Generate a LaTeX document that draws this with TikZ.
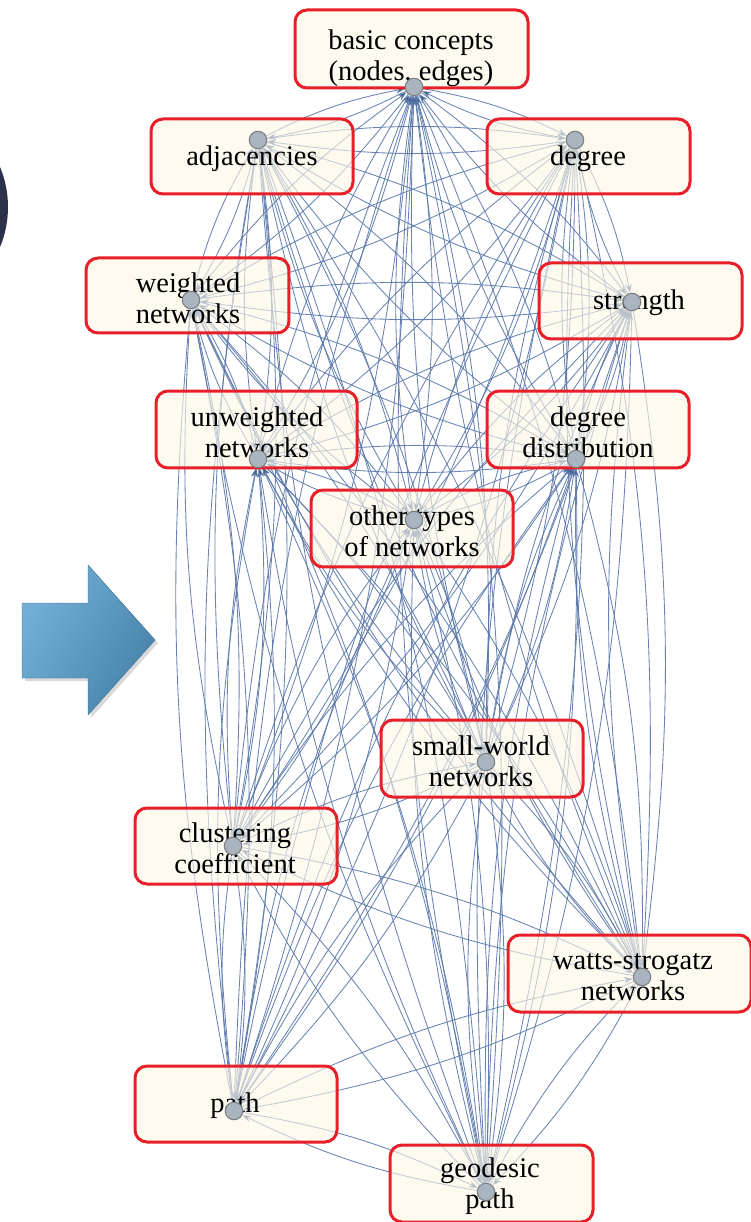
\documentclass[tikz,border=0pt]{standalone}
\usepackage{fontspec}
\setmainfont{Liberation Serif}
\usetikzlibrary{arrows.meta}
\pgfdeclarelayer{edges}
\pgfsetlayers{edges,main}
\definecolor{edgeblue}{RGB}{88,118,168}
\definecolor{tipblue}{RGB}{55,85,130}
\definecolor{boxred}{RGB}{232,30,40}
\definecolor{boxfill}{RGB}{253,247,230}
\definecolor{vfill}{RGB}{170,180,190}
\definecolor{vdraw}{RGB}{120,125,130}
\definecolor{navy}{RGB}{45,50,75}
\definecolor{arrowA}{RGB}{115,175,214}
\definecolor{arrowB}{RGB}{70,130,170}
\begin{document}
\begin{tikzpicture}[x=0.1pt,y=-0.1pt,
  conceptbox/.style={draw=boxred, line width=0.3pt, rounded corners=1.2pt, fill=boxfill, fill opacity=0.62, inner sep=0pt},
  conceptlabel/.style={align=center, inner sep=0pt, font=\fontsize{2.85}{3.1}\selectfont},
  vertex/.style={circle, draw=vdraw, fill=vfill, line width=0.1pt, minimum size=1.75pt, inner sep=0pt},
  link/.style={draw=edgeblue, line width=0.085pt, draw opacity=0.9, -{Stealth[length=0.9pt,width=0.65pt,fill=tipblue]}, bend left=8}
]
\useasboundingbox (0,0) rectangle (751,1222);
\begin{scope}
\clip (0,0) rectangle (751,1222);
\fill[navy] (-96,207) circle (10.4pt);
\end{scope}
% big blue arrow
\fill[black, opacity=0.15] (25,606) -- (91,606) -- (91,568) -- (158,643) -- (91,718) -- (91,681) -- (25,681) -- cycle;
\shade[left color=arrowA, right color=arrowB, shading angle=60, draw=arrowB!85!black, line width=0.04pt]
  (22,603) -- (88,603) -- (88,565) -- (155,640) -- (88,715) -- (88,678) -- (22,678) -- cycle;
% boxes
\node[conceptbox, minimum width=23.3pt, minimum height=7.8pt] (b1) at (411.5,49) {};
\node[conceptbox, minimum width=20.2pt, minimum height=7.5pt] (b2) at (252,156.5) {};
\node[conceptbox, minimum width=20.3pt, minimum height=7.5pt] (b3) at (588.5,156.5) {};
\node[conceptbox, minimum width=20.3pt, minimum height=7.5pt] (b4) at (187.5,295.5) {};
\node[conceptbox, minimum width=20.3pt, minimum height=7.6pt] (b5) at (640.5,301) {};
\node[conceptbox, minimum width=20.1pt, minimum height=7.7pt] (b6) at (256.5,429.5) {};
\node[conceptbox, minimum width=20.2pt, minimum height=7.7pt] (b7) at (588,429.5) {};
\node[conceptbox, minimum width=20.2pt, minimum height=7.7pt] (b8) at (412,528.5) {};
\node[conceptbox, minimum width=20.2pt, minimum height=7.7pt] (b9) at (482,758.5) {};
\node[conceptbox, minimum width=20.2pt, minimum height=7.6pt] (b10) at (236,846) {};
\node[conceptbox, minimum width=24.3pt, minimum height=7.7pt] (b11) at (629.5,973.5) {};
\node[conceptbox, minimum width=20.2pt, minimum height=7.6pt] (b12) at (236,1104) {};
\node[conceptbox, minimum width=20.3pt, minimum height=7.7pt] (b13) at (491.5,1183.5) {};
% labels
\node[conceptlabel] (t1) at (411,58) {basic concepts\\(nodes, edges)};
\node[conceptlabel] (t2) at (252,159) {adjacencies};
\node[conceptlabel] (t3) at (588,159) {degree};
\node[conceptlabel] (t4) at (188,298) {weighted\\networks};
\node[conceptlabel] (t5) at (639,303) {strength};
\node[conceptlabel] (t6) at (257,432) {unweighted\\networks};
\node[conceptlabel] (t7) at (588,432) {degree\\distribution};
\node[conceptlabel] (t8) at (412,531) {other types\\of networks};
\node[conceptlabel] (t9) at (481,761) {small-world\\networks};
\node[conceptlabel] (t10) at (235,848) {clustering\\coefficient};
\node[conceptlabel] (t11) at (633,977) {watts-strogatz\\networks};
\node[conceptlabel] (t12) at (235,1106) {path};
\node[conceptlabel] (t13) at (490,1186) {geodesic\\path};
% vertices
\node[vertex] (v1) at (414,87) {};
\node[vertex] (v2) at (258,140) {};
\node[vertex] (v3) at (575,140) {};
\node[vertex] (v4) at (191,300) {};
\node[vertex] (v5) at (632,302) {};
\node[vertex] (v6) at (258,459) {};
\node[vertex] (v7) at (576,459) {};
\node[vertex] (v8) at (414,520) {};
\node[vertex] (v9) at (486,762) {};
\node[vertex] (v10) at (233,846) {};
\node[vertex] (v11) at (642,977) {};
\node[vertex] (v12) at (234,1111) {};
\node[vertex] (v13) at (486,1192) {};
% connectors
\begin{pgfonlayer}{edges}
\foreach \i in {1,...,12}{
  \pgfmathtruncatemacro{\nxt}{\i+1}
  \foreach \j in {\nxt,...,13}{
    \draw[link] (v\i) to (v\j);
    \draw[link] (v\j) to (v\i);
  }
}
\end{pgfonlayer}
\end{tikzpicture}
\end{document}
